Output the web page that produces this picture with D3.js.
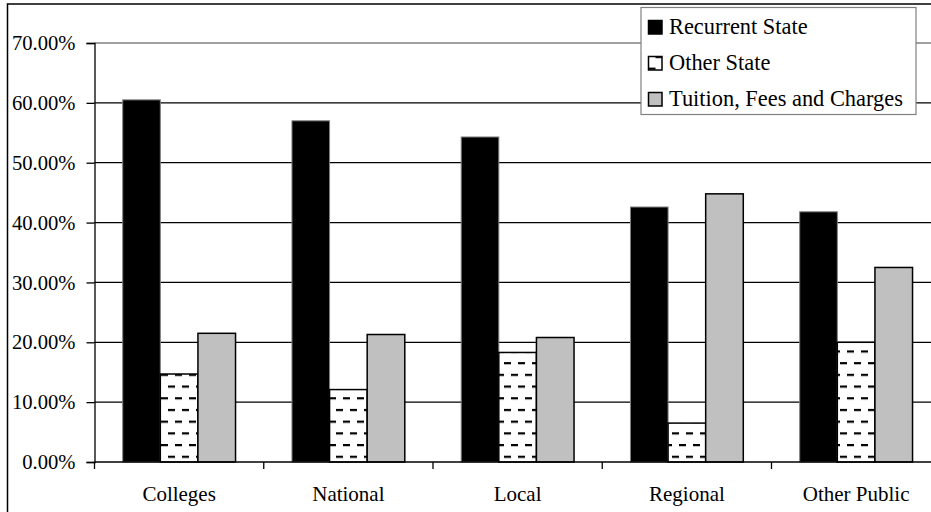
<!DOCTYPE html>
<html>
<head>
<meta charset="utf-8">
<script src="https://cdn.jsdelivr.net/npm/d3@7/dist/d3.min.js"></script>
<style>
  html, body { margin: 0; padding: 0; background: #fff; }
  svg { display: block; }
  text { font-family: "Liberation Serif", "Times New Roman", "DejaVu Serif", serif; fill: #000; }
</style>
</head>
<body>
<div id="chart"></div>
<script>
const categories = ['Colleges', 'National', 'Local', 'Regional', 'Other Public'];
const seriesNames = ['Recurrent State', 'Other State', 'Tuition, Fees and Charges'];
const recurrentState = [0.605, 0.570, 0.543, 0.426, 0.418];
const otherState = [0.147, 0.121, 0.183, 0.065, 0.200];
const tuitionFees = [0.215, 0.213, 0.208, 0.448, 0.325];
const yTicks = [0, 0.1, 0.2, 0.3, 0.4, 0.5, 0.6, 0.7];

const width = 931, height = 512;
const margin = { top: 43, left: 94.5, bottom: 462 };
const catWidth = 169.25;
const serif = '"Liberation Serif", "Times New Roman", serif';

const svg = d3.select('#chart').append('svg')
  .attr('width', width)
  .attr('height', height);

// pattern for "Other State"
const defs = svg.append('defs');
const pat = defs.append('pattern')
  .attr('id', 'dashH')
  .attr('patternUnits', 'userSpaceOnUse')
  .attr('width', 14)
  .attr('height', 23.4)
  .attr('y', 11.1);
pat.append('rect').attr('width', 14).attr('height', 23.4).attr('fill', '#fff');
pat.append('rect').attr('x', 0).attr('y', 0).attr('width', 7).attr('height', 2.2).attr('fill', '#000');
pat.append('rect').attr('x', 7).attr('y', 11.7).attr('width', 7).attr('height', 2.2).attr('fill', '#000');

// outer chart border (right/bottom edges fall outside the picture)
svg.append('rect')
  .attr('x', 7.5).attr('y', 4)
  .attr('width', 960).attr('height', 540)
  .attr('fill', 'none')
  .attr('stroke', '#000')
  .attr('stroke-width', 1.5);

const x = d3.scaleBand()
  .domain(categories)
  .range([margin.left, margin.left + catWidth * categories.length])
  .padding(0);

const xs = d3.scaleBand()
  .domain(seriesNames)
  .range([0, x.bandwidth()])
  .paddingInner(0)
  .paddingOuter(0.75);

const y = d3.scaleLinear().domain([0, 0.7]).range([margin.bottom, margin.top]);

const g = svg.append('g');

// gridlines
g.selectAll('line.grid')
  .data(yTicks.filter(d => d > 0 && d < 0.7))
  .enter()
  .append('line')
  .attr('x1', margin.left)
  .attr('x2', width + 20)
  .attr('y1', d => y(d))
  .attr('y2', d => y(d))
  .attr('stroke', '#000')
  .attr('stroke-width', 1.3);

// plot area top border (gray)
g.append('line')
  .attr('x1', margin.left).attr('x2', width + 20)
  .attr('y1', y(0.7)).attr('y2', y(0.7))
  .attr('stroke', '#808080')
  .attr('stroke-width', 1.5);

const series = [
  { name: seriesNames[0], values: recurrentState, fill: '#000', stroke: '#808080', sw: 1 },
  { name: seriesNames[1], values: otherState, fill: 'url(#dashH)', stroke: '#000', sw: 1.5 },
  { name: seriesNames[2], values: tuitionFees, fill: '#c0c0c0', stroke: '#000', sw: 1.5 }
];

series.forEach(s => {
  g.selectAll(null)
    .data(categories.map((c, i) => ({ c, v: s.values[i] })))
    .enter()
    .append('rect')
    .attr('x', d => x(d.c) + xs(s.name))
    .attr('width', xs.bandwidth())
    .attr('y', d => y(d.v))
    .attr('height', d => y(0) - y(d.v))
    .attr('fill', s.fill)
    .attr('stroke', s.stroke)
    .attr('stroke-width', s.sw);
});

// Y axis
const yAxis = g.append('g')
  .attr('transform', `translate(${margin.left},0)`)
  .call(d3.axisLeft(y).tickValues(yTicks).tickFormat(d3.format('.2%')).tickSize(8).tickPadding(11));
yAxis.attr('font-family', serif);
yAxis.select('.domain').attr('stroke', '#000').attr('stroke-width', 1.3);
yAxis.selectAll('.tick line').attr('stroke', '#000').attr('stroke-width', 1.3);
yAxis.selectAll('text')
  .attr('font-size', '20.6px')
  .attr('font-family', serif)
  .attr('fill', '#000');

// X axis
const xAxis = g.append('g')
  .attr('transform', `translate(0,${y(0)})`)
  .call(d3.axisBottom(x).tickSize(0).tickPadding(24));
xAxis.attr('font-family', serif);
xAxis.select('.domain').remove();
xAxis.append('line')
  .attr('x1', margin.left).attr('x2', width + 20)
  .attr('stroke', '#000').attr('stroke-width', 1.3);
xAxis.selectAll('line.cat-tick')
  .data(d3.range(categories.length + 1))
  .enter()
  .append('line')
  .attr('class', 'cat-tick')
  .attr('x1', i => margin.left + i * catWidth)
  .attr('x2', i => margin.left + i * catWidth)
  .attr('y1', 0).attr('y2', 7)
  .attr('stroke', '#000').attr('stroke-width', 1.3);
xAxis.selectAll('.tick text')
  .attr('font-size', '21px')
  .attr('font-family', serif)
  .attr('fill', '#000')
  .attr('dy', '0.71em');

// Legend
const legend = svg.append('g').attr('transform', 'translate(641,7.5)');
legend.append('rect')
  .attr('width', 275).attr('height', 107)
  .attr('fill', '#fff')
  .attr('stroke', '#808080')
  .attr('stroke-width', 1.2);

const items = legend.selectAll('g.item')
  .data(series)
  .enter()
  .append('g')
  .attr('transform', (d, i) => `translate(7.5,${13 + i * 36})`);

items.append('rect')
  .attr('width', 13.5).attr('height', 13.5)
  .attr('fill', d => d.fill)
  .attr('stroke', '#000')
  .attr('stroke-width', 1.5);

items.append('text')
  .attr('x', 20.5)
  .attr('y', 13.5)
  .attr('font-size', '22.4px')
  .attr('font-family', serif)
  .text(d => d.name);
</script>
</body>
</html>
